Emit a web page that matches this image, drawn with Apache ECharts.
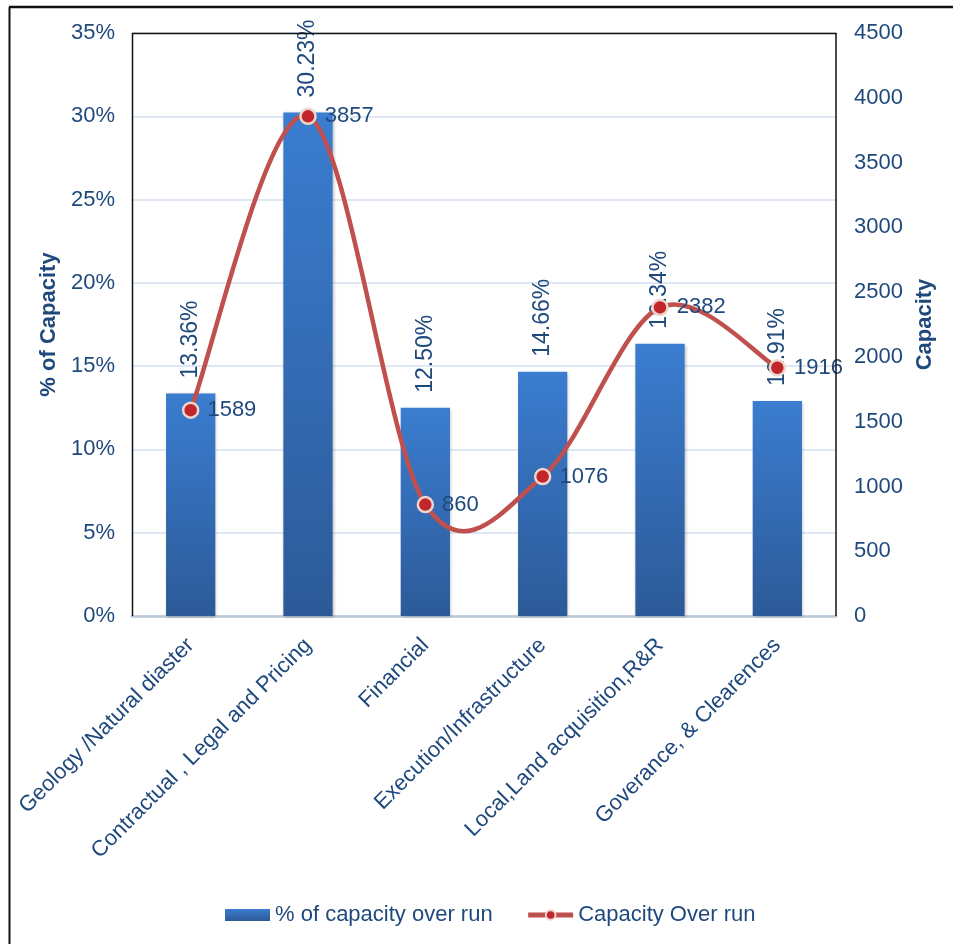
<!DOCTYPE html>
<html>
<head>
<meta charset="utf-8">
<script src="https://cdn.jsdelivr.net/npm/echarts@6/dist/echarts.min.js"></script>
<style>
html,body{margin:0;padding:0;background:#fff;}
#chart{width:953px;height:944px;}
</style>
</head>
<body>
<div id="chart"></div>
<script>
const categories = ["Geology /Natural diaster", "Contractual , Legal and Pricing", "Financial", "Execution/Infrastructure", "Local,Land acquisition,R&R", "Goverance, & Clearences"];
const pctValues = [13.36, 30.23, 12.50, 14.66, 16.34, 12.91];
const capacityValues = [1589, 3857, 860, 1076, 2382, 1916];
const leftTicks = { min: 0, max: 35, interval: 5 };
const rightTicks = { min: 0, max: 4500, interval: 500 };

const textColor = '#1F497D';
const lineColor = '#C0504D';
const font = 'Liberation Sans, Arial, sans-serif';

// Excel-like smoothed curve (Catmull-Rom -> Bezier) through points mapped by the library's scales
function renderCurve(params, api) {
  if (params.dataIndex !== 0) return null;
  const pts = capacityValues.map((v, i) => api.coord([i, v]));
  const n = pts.length;
  let d = 'M' + pts[0][0] + ' ' + pts[0][1];
  for (let i = 0; i < n - 1; i++) {
    const p0 = pts[i - 1] || pts[i];
    const p1 = pts[i];
    const p2 = pts[i + 1];
    const p3 = pts[i + 2] || pts[i + 1];
    const c1x = p1[0] + (p2[0] - p0[0]) / 6, c1y = p1[1] + (p2[1] - p0[1]) / 6;
    const c2x = p2[0] - (p3[0] - p1[0]) / 6, c2y = p2[1] - (p3[1] - p1[1]) / 6;
    d += ' C' + c1x + ' ' + c1y + ' ' + c2x + ' ' + c2y + ' ' + p2[0] + ' ' + p2[1];
  }
  return {
    type: 'path',
    shape: { pathData: d },
    style: { fill: null, stroke: lineColor, lineWidth: 4.5, lineCap: 'round', lineJoin: 'round' }
  };
}

const chart = echarts.init(document.getElementById('chart'), null, { renderer: 'canvas' });
chart.setOption({
  animation: false,
  backgroundColor: '#fff',
  textStyle: { fontFamily: font },
  graphic: [
    { type: 'line', shape: { x1: 9, y1: 7, x2: 953, y2: 7 }, style: { stroke: '#111', lineWidth: 2.5 }, z: 10 },
    { type: 'line', shape: { x1: 9.5, y1: 7, x2: 9.5, y2: 944 }, style: { stroke: '#111', lineWidth: 2 }, z: 10 },
    { type: 'line', shape: { x1: 132, y1: 33.5, x2: 836.5, y2: 33.5 }, style: { stroke: '#111', lineWidth: 1.5 }, z: 100, silent: true },
    { type: 'line', shape: { x1: 132.5, y1: 33, x2: 132.5, y2: 616 }, style: { stroke: '#111', lineWidth: 1.5 }, z: 100, silent: true },
    { type: 'line', shape: { x1: 836, y1: 33, x2: 836, y2: 616 }, style: { stroke: '#111', lineWidth: 1.5 }, z: 100, silent: true }
  ],
  grid: { left: 132, right: 117, top: 33, bottom: 328, containLabel: false },
  legend: {
    bottom: 13,
    left: 220,
    itemGap: 33,
    itemWidth: 45,
    itemHeight: 12,
    textStyle: { color: textColor, fontSize: 22, fontFamily: font },
    data: [
      { name: '% of capacity over run', icon: 'rect' },
      { name: 'Capacity Over run', lineStyle: { color: lineColor, width: 5, opacity: 1 } }
    ]
  },
  xAxis: {
    type: 'category',
    data: categories,
    axisTick: { show: false },
    axisLine: { lineStyle: { color: '#B9C7D8', width: 2.5 } },
    axisLabel: { rotate: 45, color: textColor, fontSize: 22, margin: 26, interval: 0, fontFamily: font }
  },
  yAxis: [
    {
      type: 'value', min: leftTicks.min, max: leftTicks.max, interval: leftTicks.interval,
      name: '% of Capacity', nameLocation: 'middle', nameGap: 72, nameRotate: 90,
      nameTextStyle: { color: textColor, fontSize: 22, fontWeight: 'bold', fontFamily: font },
      axisLine: { show: false }, axisTick: { show: false },
      axisLabel: { color: textColor, fontSize: 22, margin: 17, formatter: v => v + '%', fontFamily: font },
      splitLine: { lineStyle: { color: '#D3E1F1', width: 1.5 } }
    },
    {
      type: 'value', min: rightTicks.min, max: rightTicks.max, interval: rightTicks.interval,
      name: 'Capacity', nameLocation: 'middle', nameGap: 78, nameRotate: 90,
      nameTextStyle: { color: textColor, fontSize: 22, fontWeight: 'bold', fontFamily: font },
      axisLine: { show: false }, axisTick: { show: false },
      axisLabel: { color: textColor, fontSize: 22, margin: 18, formatter: v => String(v), fontFamily: font },
      splitLine: { show: false }
    }
  ],
  series: [
    {
      name: '% of capacity over run',
      type: 'bar',
      yAxisIndex: 0,
      barWidth: '42%',
      data: pctValues,
      itemStyle: {
        color: new echarts.graphic.LinearGradient(0, 0, 0, 1, [
          { offset: 0, color: '#3B7DD0' },
          { offset: 1, color: '#2C5A98' }
        ]),
        shadowColor: 'rgba(0,0,0,0.25)', shadowBlur: 3, shadowOffsetX: 1, shadowOffsetY: 1
      },
      label: {
        show: true, position: 'top', rotate: 90, align: 'left', verticalAlign: 'middle',
        distance: 15, color: textColor, fontSize: 23, fontFamily: font,
        formatter: p => p.value.toFixed(2) + '%'
      },
      z: 2
    },
    {
      name: 'curve',
      type: 'custom',
      yAxisIndex: 1,
      silent: true,
      data: [[0, capacityValues[0]]],
      renderItem: renderCurve,
      z: 3
    },
    {
      name: 'Capacity Over run',
      type: 'line',
      yAxisIndex: 1,
      data: capacityValues,
      symbol: 'circle',
      symbolSize: 15,
      lineStyle: { color: lineColor, width: 4, opacity: 0 },
      itemStyle: { color: '#C0262A', borderColor: '#EED5CC', borderWidth: 2.5 },
      label: { show: true, position: 'right', distance: 8, color: textColor, fontSize: 22, fontFamily: font },
      z: 4
    }
  ]
});
</script>
</body>
</html>
